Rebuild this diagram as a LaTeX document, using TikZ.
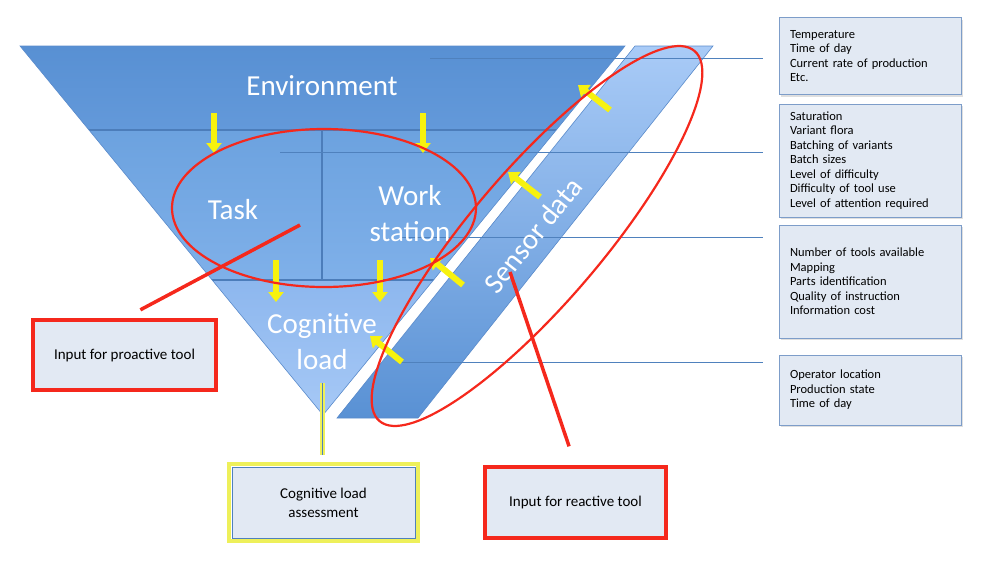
\documentclass[tikz,border=0pt]{standalone}
\usepackage{fontspec}
\setmainfont{Carlito}
\usepackage{xcolor}
\definecolor{funnel-a}{HTML}{5890D3}
\definecolor{funnel-b}{HTML}{6399DA}
\definecolor{funnel-c}{HTML}{6CA2DF}
\definecolor{funnel-d}{HTML}{7FB0E9}
\definecolor{funnel-e}{HTML}{8DB7EE}
\definecolor{funnel-f}{HTML}{A7C9F6}
\definecolor{sensor-top}{HTML}{A9CBF7}
\definecolor{sensor-bottom}{HTML}{5991D4}
\definecolor{edge-blue}{HTML}{5A8BCB}
\definecolor{band-blue}{HTML}{4C7DBA}
\definecolor{line-blue}{HTML}{4F81BD}
\definecolor{arrow-yellow}{HTML}{F7F20E}
\definecolor{glow-yellow}{HTML}{EEF05A}
\definecolor{mark-red}{HTML}{F5281C}
\definecolor{box-fill}{HTML}{E2E9F3}
\definecolor{box-edge}{HTML}{7D9DC9}
\usetikzlibrary{arrows.meta,shadows}

\tikzset{
    bigtext/.style={text=white, font=\fontsize{29}{36}\selectfont, align=center},
    yarrow/.style={draw=arrow-yellow, line width=6pt, -{Triangle[length=10pt,width=15pt]}},
    redring/.style={draw=mark-red, line width=2.2pt},
    redline/.style={draw=mark-red, line width=3.5pt},
    boxshadow/.style={drop shadow={opacity=0.25, shadow xshift=1.5pt, shadow yshift=-2pt}},
    redbox/.style={draw=mark-red, line width=3.5pt, fill=box-fill, boxshadow,
        minimum width=183pt, minimum height=70pt, align=center,
        font=\fontsize{15}{19}\selectfont},
    infobox/.style={draw=box-edge, line width=0.8pt, fill=box-fill, boxshadow,
        minimum width=182pt, text width=160pt, inner xsep=11pt, align=left,
        font=\fontsize{12.5}{14.5}\selectfont},
    infoline/.style={draw=line-blue, line width=0.8pt}
}

\begin{document}
\begin{tikzpicture}[x=1pt, y=-1pt]

    \useasboundingbox (0,0) rectangle (987,576);

    % Funnel
    \begin{scope}
        \clip (20,46) -- (625,46) -- (323,415) -- cycle;
        \shade[top color=funnel-a, bottom color=funnel-b] (0,46) rectangle (700,130);
        \shade[top color=funnel-c, bottom color=funnel-d] (0,130) rectangle (700,280);
        \shade[top color=funnel-e, bottom color=funnel-f] (0,280) rectangle (700,420);
        \draw[band-blue, line width=1.5pt] (0,130) -- (700,130) (0,280) -- (700,280) (322,130) -- (322,280);
    \end{scope}
    \draw[edge-blue, line width=0.6pt] (20,46) -- (625,46) -- (323,415) -- cycle;

    % Sensor band
    \shade[top color=sensor-top, bottom color=sensor-bottom, draw=edge-blue, line width=0.6pt]
        (635,46) -- (713,46) -- (418,418) -- (337,418) -- cycle;

    % Lines to the lists
    \foreach \xa/\yy in {430/58, 280/152, 400/237, 400/362}
        \draw[infoline] (\xa,\yy) -- (763,\yy);

    % Labels
    \node[bigtext] (env) at (322,86) {Environment};
    \node[bigtext] (task) at (233,210) {Task};
    \node[bigtext] (work) at (410,214) {Work\\station};
    \node[bigtext] (cogload) at (322,342) {Cognitive\\load};
    \node[bigtext, rotate=51.3] (sensor) at (533,235) {Sensor data};

    % Yellow arrows
    \foreach \ax/\ay/\bx/\by in {214/113/214/153, 423/113/423/153, 276/260/276/302, 380/260/380/302,
            463/285/430/258, 402/362/370/336, 540/197/508/172, 610/110/578/85}
        \draw[yarrow] (\ax,\ay) -- (\bx,\by);

    % Red rings
    \draw[redring] (324,208) ellipse [x radius=152, y radius=79];
    \draw[redring, rotate around={49.6:(537,236)}] (537,236) ellipse [x radius=243, y radius=66];

    % Boxes
    \node[redbox] (proactive) at (124.5,355) {Input for proactive tool};
    \node[redbox, minimum width=181pt, minimum height=71pt] (reactive) at (575.5,502.5) {Input for reactive tool};
    \node[draw=line-blue, line width=0.8pt, fill=box-fill, boxshadow,
        minimum width=183pt, minimum height=71pt, align=center,
        font=\fontsize{15}{19}\selectfont] (assess) at (323.5,502.5) {Cognitive load\\assessment};
    \draw[glow-yellow, line width=3.5pt]
        ([shift={(-2.5,-2.5)}]assess.north west) rectangle ([shift={(2.5,2.5)}]assess.south east);

    \node[infobox, minimum height=77pt] (info1) at (870,56) {Temperature\\Time of day\\Current rate of production\\Etc.};
    \node[infobox, minimum height=113pt] (info2) at (870,160.5) {Saturation\\Variant flora\\Batching of variants\\Batch sizes\\Level of difficulty\\Difficulty of tool use\\Level of attention required};
    \node[infobox, minimum height=113pt] (info3) at (870,281.5) {Number of tools available\\Mapping\\Parts identification\\Quality of instruction\\Information cost};
    \node[infobox, minimum height=70pt] (info4) at (870,390) {Operator location\\Production state\\Time of day};

    % Pointers
    \coordinate (pro tip) at (300,225);
    \coordinate (re tip) at (510,272);
    \coordinate (cl foot) at (322,383);
    \draw[redline, shorten >=18pt] (pro tip) -- (proactive.north);
    \draw[redline, shorten >=20pt] (re tip) -- (reactive.north);
    \draw[line-blue, line width=0.6pt, preaction={draw=glow-yellow, line width=5pt}, shorten >=12pt]
        (cl foot) -- (cl foot |- assess.north);

\end{tikzpicture}
\end{document}
